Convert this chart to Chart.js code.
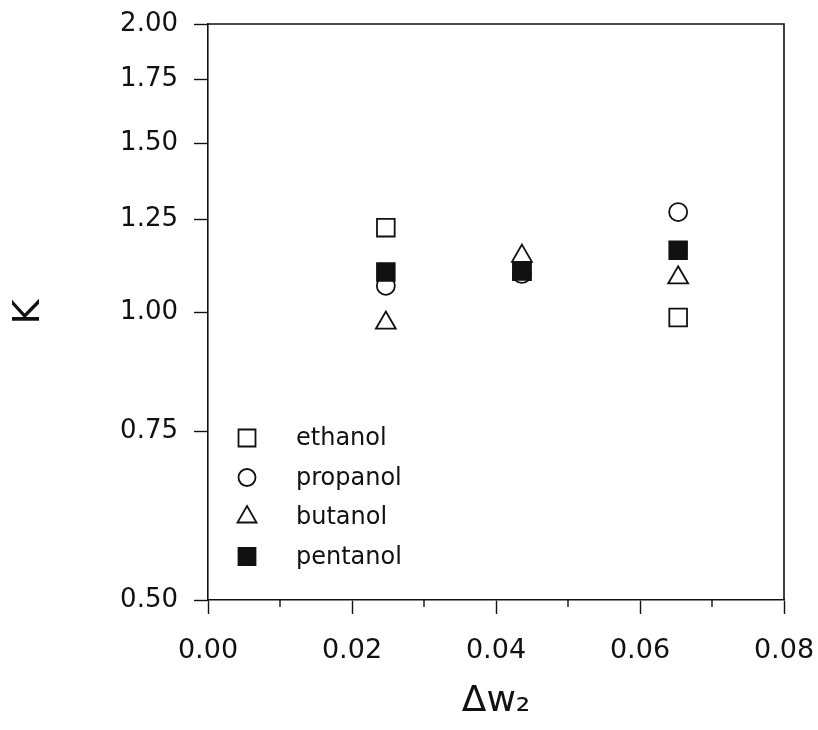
<!DOCTYPE html>
<html lang="en">
<head>
    <meta charset="UTF-8">
    <title>K vs delta w2</title>
    <script src="https://cdn.jsdelivr.net/npm/chart.js"></script>
    <style>
        body { margin: 0; padding: 0; background: #fff; }
        .wrap { width: 818px; height: 730px; }
    </style>
</head>
<body>
    <div class="wrap"><canvas id="kChart" width="818" height="730"></canvas></div>

    <script>
        // values
        const alcohols = ["ethanol", "propanol", "butanol", "pentanol"];
        const ethanolX = [0.0247, 0.0436, 0.0653];
        const ethanolK = [1.225, 1.103, 0.987];
        const propanolX = [0.0247, 0.0436, 0.0653];
        const propanolK = [1.065, 1.096, 1.272];
        const butanolX = [0.0247, 0.0436, 0.0653];
        const butanolK = [0.974, 1.144, 1.086];
        const pentanolX = [0.0247, 0.0436, 0.0653];
        const pentanolK = [1.101, 1.104, 1.160];
        const xTicks = [0, 0.02, 0.04, 0.06, 0.08];
        const xMinorTicks = [0.01, 0.03, 0.05, 0.07];
        const yTicks = [0.5, 0.75, 1.0, 1.25, 1.5, 1.75, 2.0];

        const ink = "#111";
        const fontFam = "'DejaVu Sans', sans-serif";

        function pts(xs, ys) {
            return xs.map((x, i) => ({ x: x, y: ys[i] }));
        }

        const markers = [
            { style: "rect", fill: "#fff", r: 12.5 },
            { style: "circle", fill: "#fff", r: 9 },
            { style: "triangle", fill: "#fff", r: 11.5 },
            { style: "rect", fill: ink, r: 12.5 }
        ];
        const series = [pts(ethanolX, ethanolK), pts(propanolX, propanolK), pts(butanolX, butanolK), pts(pentanolX, pentanolK)];

        const datasets = alcohols.map((name, i) => ({
            label: name,
            data: series[i],
            pointStyle: markers[i].style,
            pointRadius: markers[i].r,
            pointHoverRadius: markers[i].r,
            pointBackgroundColor: markers[i].fill,
            pointBorderColor: ink,
            pointBorderWidth: 1.8,
            showLine: false,
            order: 4 - i
        }));

        // box, minor ticks and the legend inside the plot
        const extras = {
            id: "extras",
            afterDraw(chart) {
                const ctx = chart.ctx;
                const a = chart.chartArea;
                const xs = chart.scales.x;
                ctx.save();
                ctx.strokeStyle = ink;
                ctx.lineWidth = 1.6;
                ctx.beginPath();
                ctx.moveTo(a.left, a.top);
                ctx.lineTo(a.right, a.top);
                ctx.lineTo(a.right, a.bottom);
                ctx.stroke();

                ctx.lineWidth = 1.4;
                xMinorTicks.forEach(v => {
                    const px = xs.getPixelForValue(v);
                    ctx.beginPath();
                    ctx.moveTo(px, a.bottom);
                    ctx.lineTo(px, a.bottom + 7);
                    ctx.stroke();
                });

                ctx.font = "24px " + fontFam;
                ctx.textBaseline = "middle";
                ctx.textAlign = "left";
                alcohols.forEach((name, i) => {
                    const y = 438 + i * 39.5;
                    const m = markers[i];
                    ctx.fillStyle = m.fill;
                    ctx.strokeStyle = ink;
                    ctx.lineWidth = 1.8;
                    Chart.helpers.drawPoint(ctx, { pointStyle: m.style, radius: m.r - 0.5, rotation: 0, borderWidth: 1.8 }, 247, y);
                    ctx.fillStyle = ink;
                    ctx.fillText(name, 296, y + 1);
                });
                ctx.restore();
            }
        };

        new Chart(document.getElementById("kChart"), {
            type: "scatter",
            data: { datasets: datasets },
            options: {
                responsive: false,
                animation: false,
                layout: { padding: { top: 24, right: 34, left: 0, bottom: 0 } },
                plugins: { legend: { display: false }, tooltip: { enabled: false } },
                scales: {
                    x: {
                        type: "linear",
                        min: 0,
                        max: 0.08,
                        afterFit: s => { s.height = 130; s.paddingLeft = 0; s.paddingRight = 0; },
                        afterBuildTicks: s => { s.ticks = xTicks.map(v => ({ value: v })); },
                        ticks: {
                            color: ink,
                            font: { size: 27, family: fontFam },
                            padding: 21,
                            callback: v => Number(v).toFixed(2)
                        },
                        grid: { drawOnChartArea: false, tickLength: 14, tickColor: ink, tickWidth: 1.4 },
                        border: { color: ink, width: 1.6 },
                        title: {
                            display: true,
                            text: "Δw₂",
                            color: ink,
                            font: { size: 36, family: fontFam },
                            padding: { top: 0, bottom: 7 }
                        }
                    },
                    y: {
                        type: "logarithmic",
                        min: 0.5,
                        max: 2,
                        afterFit: s => { s.width = 208; s.paddingTop = 0; s.paddingBottom = 0; },
                        afterBuildTicks: s => { s.ticks = yTicks.map(v => ({ value: v })); },
                        ticks: {
                            color: ink,
                            font: { size: 26, family: fontFam },
                            padding: 16,
                            callback: v => Number(v).toFixed(2)
                        },
                        grid: { drawOnChartArea: false, tickLength: 14, tickColor: ink, tickWidth: 1.4 },
                        border: { color: ink, width: 1.6 },
                        title: {
                            display: true,
                            text: "K",
                            color: ink,
                            font: { size: 38, family: fontFam },
                            padding: { top: 6, bottom: 4 }
                        }
                    }
                }
            },
            plugins: [extras]
        });
    </script>
</body>
</html>
